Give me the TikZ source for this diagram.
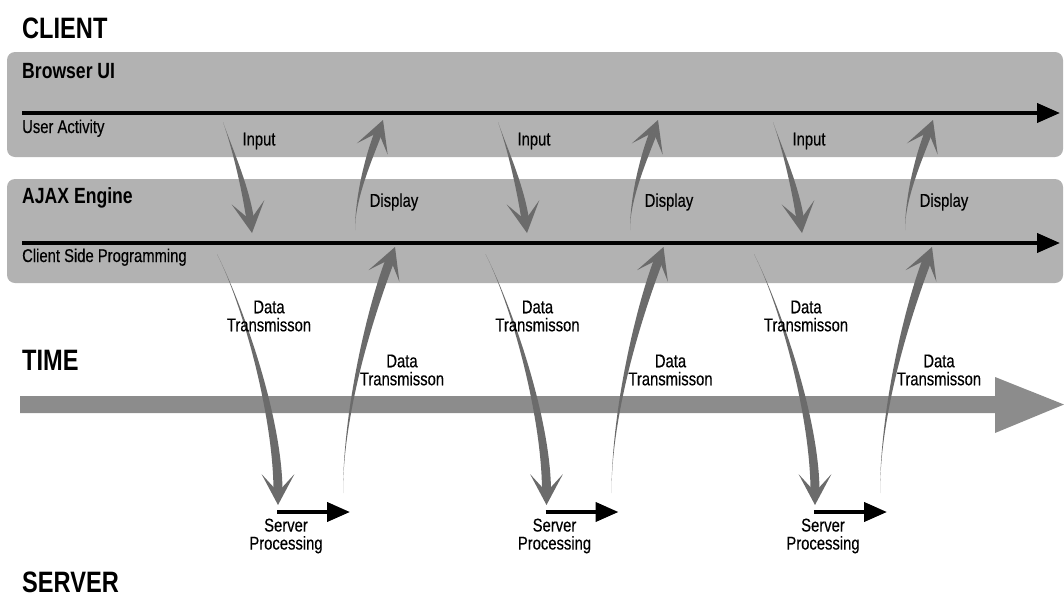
\documentclass[tikz,border=0pt]{standalone}
\usepackage{fontspec}
\setmainfont{Liberation Sans}[FakeStretch=0.8]
\newfontfamily\labelfont{Liberation Sans}[FakeStretch=0.8, FakeBold=0.4]
\usetikzlibrary{calc,arrows.meta}

\definecolor{band}{gray}{0.70}
\definecolor{flowgray}{gray}{0.42}
\definecolor{timegray}{gray}{0.55}

% Curved arrow with a tapered shaft and a notched head.
% #1 start, #2 first control, #3 second control, #4 shaft end (head notch), #5 tip, #6 half width at the head
\newcommand\bentarrow[6]{%
  \coordinate (ba-s) at #1;
  \coordinate (ba-c1) at #2;
  \coordinate (ba-c2) at #3;
  \coordinate (ba-b) at #4;
  \coordinate (ba-t) at #5;
  \coordinate (ba-bl) at ($(ba-b)!#6!90:(ba-t)$);
  \coordinate (ba-br) at ($(ba-b)!#6!-90:(ba-t)$);
  \coordinate (ba-c2l) at ($(ba-c2)+(ba-bl)-(ba-b)$);
  \coordinate (ba-c2r) at ($(ba-c2)+(ba-br)-(ba-b)$);
  \fill[flowgray] (ba-s) .. controls (ba-c1) and (ba-c2l) .. (ba-bl) -- (ba-br)
        .. controls (ba-c2r) and (ba-c1) .. (ba-s) -- cycle;
  \fill[flowgray] (ba-t) -- ($(ba-t)!35pt!28:(ba-b)$) -- (ba-b)
        -- ($(ba-t)!35pt!-28:(ba-b)$) -- cycle;
}

\begin{document}
\begin{tikzpicture}[x=1pt,y=-1pt,
  heading/.style={anchor=base west, inner sep=0pt, font=\fontsize{29.5}{30}\selectfont\bfseries},
  lanetitle/.style={anchor=base west, inner sep=0pt, font=\fontsize{22}{24}\selectfont\bfseries},
  lanenote/.style={anchor=base west, inner sep=0pt, font=\labelfont\fontsize{18.5}{19}\selectfont},
  lab/.style={inner sep=0pt, align=center, font=\labelfont\fontsize{18.5}{18}\selectfont},
  lane/.style={fill=band, rounded corners=8pt},
  flowline/.style={line width=4pt, -{Triangle[length=23pt,width=19pt]}},
]
\useasboundingbox (0,0) rectangle (1064,597);

% headings
\node[heading] (client) at (22,38) {CLIENT};
\node[heading] (time) at (22,370) {TIME};
\node[heading] (server) at (22,592) {SERVER};

% client lanes
\fill[lane] (7,52) rectangle (1063,157);
\fill[lane] (7,179) rectangle (1063,283);
\node[lanetitle] (browser) at (22,78) {Browser UI};
\node[lanenote] (useract) at (22,133) {User Activity};
\node[lanetitle] (ajax) at (22,203) {AJAX Engine};
\node[lanenote] (clientside) at (22,262) {Client Side Programming};

\coordinate (ua-start) at (22,113);
\coordinate (ua-end) at (1060,113);
\coordinate (cs-start) at (22,243);
\coordinate (cs-end) at (1060,243);
\draw[flowline] (ua-start) -- (ua-end);
\draw[flowline] (cs-start) -- (cs-end);

% time axis
\fill[timegray] (20,396) -- (995,396) -- (995,377) -- (1064,404.5)
  -- (995,433) -- (995,413) -- (20,413) -- cycle;

% three request cycles
\foreach \u/\l/\k in {0/0/1, 275/268.5/2, 550/537/3}{
  \begin{scope}[xshift=\l pt]
    \bentarrow{(217,254)}{(245,310)}{(278,420)}{(278,492)}{(278,505)}{4.5pt}
    \bentarrow{(343,493)}{(343,410)}{(371.5,308.5)}{(390.4,259.1)}{(395,247)}{4.5pt}
    \node[lab] (dtout\k) at (269,316) {Data\\Transmisson};
    \node[lab] (dtback\k) at (402,370) {Data\\Transmisson};
    \coordinate (sp-start\k) at (277,512);
    \coordinate (sp-end\k) at (350,512);
    \draw[flowline] (sp-start\k) -- (sp-end\k);
    \node[lab] (proc\k) at (286,536) {Server\\Processing};
  \end{scope}
  \begin{scope}[xshift=\u pt]
    \bentarrow{(223,122)}{(232,148)}{(245,185)}{(250.3,220)}{(252,233)}{3.8pt}
    \bentarrow{(355,230)}{(355,200)}{(367,162)}{(378.5,132.2)}{(383,120)}{3.8pt}
    \node[lab] (input\k) at (259,141) {Input};
    \node[lab] (display\k) at (394,202) {Display};
  \end{scope}
}
\end{tikzpicture}
\end{document}
